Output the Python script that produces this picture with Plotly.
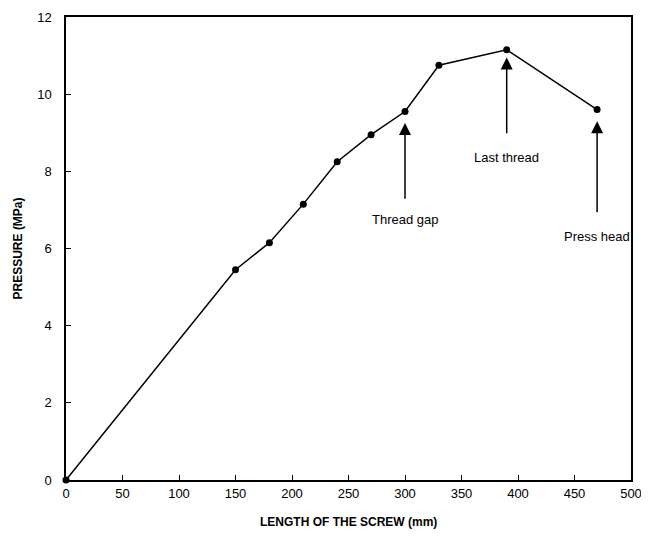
import plotly.graph_objects as go

length_mm = [0, 150, 180, 210, 240, 270, 300, 330, 390, 470]
pressure_mpa = [0, 5.45, 6.15, 7.15, 8.25, 8.95, 9.55, 10.75, 11.15, 9.6]

ann_text = ["Thread gap", "Last thread", "Press head"]
ann_x = [300, 390, 470]
ann_tip = [9.25, 10.95, 9.3]
ann_tail = [7.25, 8.95, 6.9]
ann_label_y = [6.75, 8.35, 6.3]

fig = go.Figure()
fig.add_trace(go.Scatter(
    x=length_mm, y=pressure_mpa, mode="lines+markers",
    line=dict(color="black", width=1.5),
    marker=dict(color="black", size=7),
    cliponaxis=False, showlegend=False))

for t, x, tip, tail, ly in zip(ann_text, ann_x, ann_tip, ann_tail, ann_label_y):
    fig.add_annotation(x=x, y=tip, ax=x, ay=tail, axref="x", ayref="y",
                       xref="x", yref="y", text="", showarrow=True,
                       arrowhead=2, arrowsize=1.6, arrowwidth=1.5, arrowcolor="black")
    fig.add_annotation(x=x, y=ly, xref="x", yref="y", text=t, showarrow=False,
                       font=dict(size=13, color="black", family="Liberation Sans"))

# axis titles as paper annotations
fig.add_annotation(x=0.5, y=-0.09, xref="paper", yref="paper", yanchor="middle",
                   text="<b>LENGTH OF THE SCREW (mm)</b>", showarrow=False,
                   font=dict(size=12, color="black"))
fig.add_annotation(x=-0.085, y=0.5, xref="paper", yref="paper", xanchor="center",
                   text="<b>PRESSURE (MPa)</b>", showarrow=False, textangle=-90,
                   font=dict(size=12, color="black"))

fig.update_layout(
    width=649, height=540,
    margin=dict(l=58, r=26, t=9, b=68),
    paper_bgcolor="white", plot_bgcolor="white",
    font=dict(family="Liberation Sans", color="black", size=13),
    xaxis=dict(range=[0, 500], tickvals=list(range(0, 501, 50)),
               ticks="inside", ticklen=5, tickcolor="black",
               showline=True, linecolor="black", linewidth=1.5, mirror=True,
               showgrid=False, zeroline=False, automargin=False,
               ticklabelstandoff=1),
    yaxis=dict(range=[0, 12], tickvals=list(range(0, 13, 2)),
               ticks="inside", ticklen=5, tickcolor="black",
               showline=True, linecolor="black", linewidth=1.5, mirror=True,
               showgrid=False, zeroline=False, automargin=False,
               ticklabelstandoff=10),
)

fig.write_html("out.html")
